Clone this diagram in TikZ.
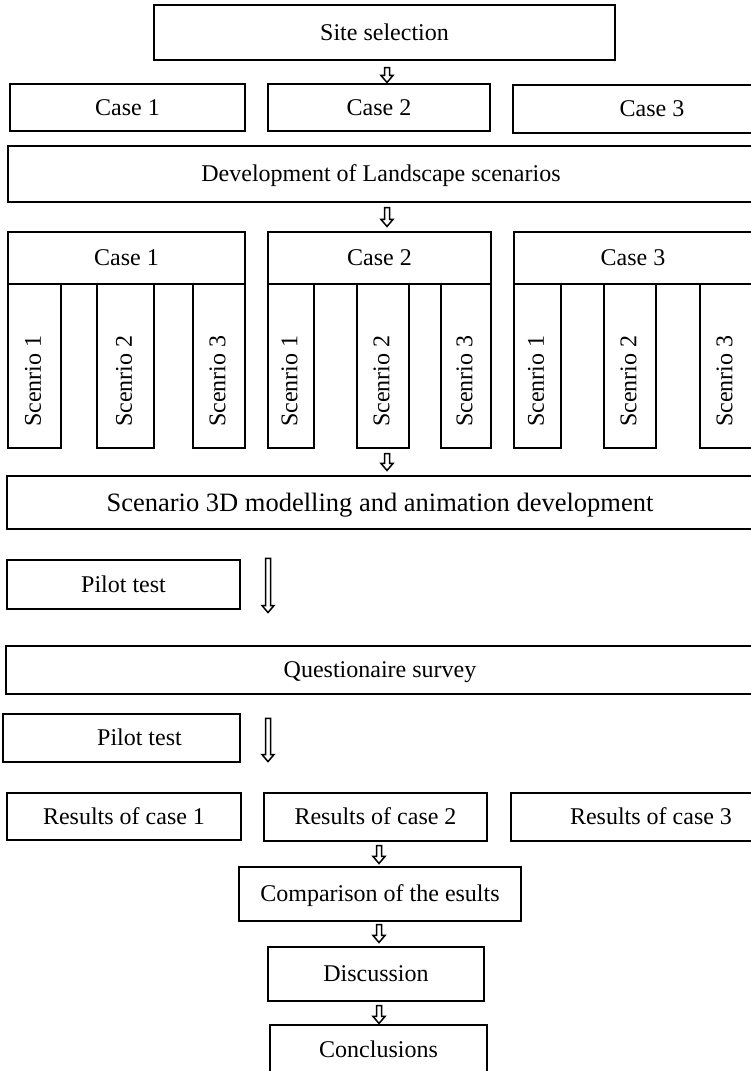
\documentclass[tikz,border=0pt]{standalone}
\usepackage{fontspec}
\setmainfont{Liberation Serif}
\usetikzlibrary{calc}

\tikzset{
  box/.style={draw=black, line width=1.1pt, inner sep=0pt, rectangle,
    font=\fontsize{24}{28}\selectfont, text height=19.5pt, text depth=3.6pt},
  bigbox/.style={box, font=\fontsize{26.5}{30}\selectfont,
    text height=21.5pt, text depth=4pt},
  scenbox/.style={draw=black, line width=1.1pt, inner sep=0pt, rectangle,
    minimum height=164pt},
  scentext/.style={rotate=90, anchor=west, inner sep=0pt,
    font=\fontsize{24}{28}\selectfont},
  flowarrow/.style={draw=black, line width=1.5pt, fill=white, line join=miter}
}

% hollow block arrow pointing down, from the first point to the second
\newcommand{\hollowarrow}[2]{%
  \path[flowarrow] let \p1=#1, \p2=#2 in
    ({\x1-2.5pt},\y1) -- ({\x1+2.5pt},\y1) -- ({\x1+2.5pt},{\y2+7pt})
    -- ({\x1+6pt},{\y2+7pt}) -- (\x1,\y2) -- ({\x1-6pt},{\y2+7pt})
    -- ({\x1-2.5pt},{\y2+7pt}) -- cycle;}

\begin{document}
\begin{tikzpicture}[x=1pt,y=-1pt]
\useasboundingbox (0,0) rectangle (750,1071);

% arrow columns
\coordinate (topx) at (387,0);
\coordinate (lowx) at (379,0);
\coordinate (pilx) at (268,0);

% site selection and cases
\node[box, minimum width=461pt, minimum height=55pt] (site) at (384.5,32.5) {Site selection};
\node[box, minimum width=235pt, minimum height=47pt] (case1a) at (127.5,107.5) {Case 1};
\node[box, minimum width=222pt, minimum height=47pt] (case2a) at (379,107.5) {Case 2};
\node[box, minimum width=278pt, minimum height=48pt] (case3a) at (652,109) {Case 3};

\node[box, minimum width=746pt, minimum height=56pt] (dev) at (381,174) {Development of Landscape scenarios};

% cases with their scenarios
\node[box, minimum width=237pt, minimum height=52pt] (case1b) at (126.5,258) {Case 1};
\node[box, minimum width=223pt, minimum height=52pt] (case2b) at (379.5,258) {Case 2};
\node[box, minimum width=238pt, minimum height=52pt] (case3b) at (633,258) {Case 3};

\foreach \nm/\cx/\w/\lab in {s11/34.5/53/1, s12/125.5/57/2, s13/219/52/3,
                             s21/291/46/1, s22/383/52/2, s23/466/50/3,
                             s31/537.5/47/1, s32/630/52/2, s33/726/52/3}{
  \node[scenbox, minimum width=\w pt] (\nm) at (\cx,366) {};
  \node[scentext] (\nm t) at (\cx-1.5,427) {Scenrio \lab};
}

\node[bigbox, minimum width=746pt, minimum height=53pt] (model) at (380,502.5)
      {Scenario 3D modelling and animation development};

\node[box, minimum width=233pt, minimum height=49pt] (pilot1) at (123.5,584.5) {Pilot test};
\node[box, minimum width=748pt, minimum height=48pt] (survey) at (380,670) {Questionaire survey};
\node[box, minimum width=237pt, minimum height=48pt] (pilot2) at (121.5,738) {\hspace*{36pt}Pilot test};

% results and conclusions
\node[box, minimum width=234pt, minimum height=47pt] (res1) at (124,816.5) {Results of case 1};
\node[box, minimum width=223pt, minimum height=48pt] (res2) at (375.5,817) {Results of case 2};
\node[box, minimum width=280pt, minimum height=48pt] (res3) at (651,817) {Results of case 3};
\node[box, minimum width=282pt, minimum height=54pt] (comp) at (380,894) {Comparison of the esults};
\node[box, minimum width=216pt, minimum height=54pt] (disc) at (376,974) {Discussion};
\node[box, minimum width=217pt, minimum height=49pt] (concl) at (378.5,1049.5) {Conclusions};

% arrows
\hollowarrow{($(site.south -| topx)+(0,7)$)}{($(case2a.north -| topx)+(0,-1)$)}
\hollowarrow{($(dev.south -| topx)+(0,5)$)}{($(case2b.north -| topx)+(0,-5)$)}
\hollowarrow{($(s22.south -| topx)+(0,5)$)}{($(model.north -| topx)+(0,-5)$)}
\hollowarrow{($(pilot1.north -| pilx)+(0,-1)$)}{($(pilot1.south -| pilx)+(0,3)$)}
\hollowarrow{($(pilot2.north -| pilx)+(0,5)$)}{($(pilot2.south -| pilx)+(0,-1)$)}
\hollowarrow{($(res2.south -| lowx)+(0,4)$)}{($(comp.north -| lowx)+(0,-3)$)}
\hollowarrow{($(comp.south -| lowx)+(0,3)$)}{($(disc.north -| lowx)+(0,-4)$)}
\hollowarrow{($(disc.south -| lowx)+(0,4)$)}{($(concl.north -| lowx)+(0,-1)$)}
\end{tikzpicture}
\end{document}
